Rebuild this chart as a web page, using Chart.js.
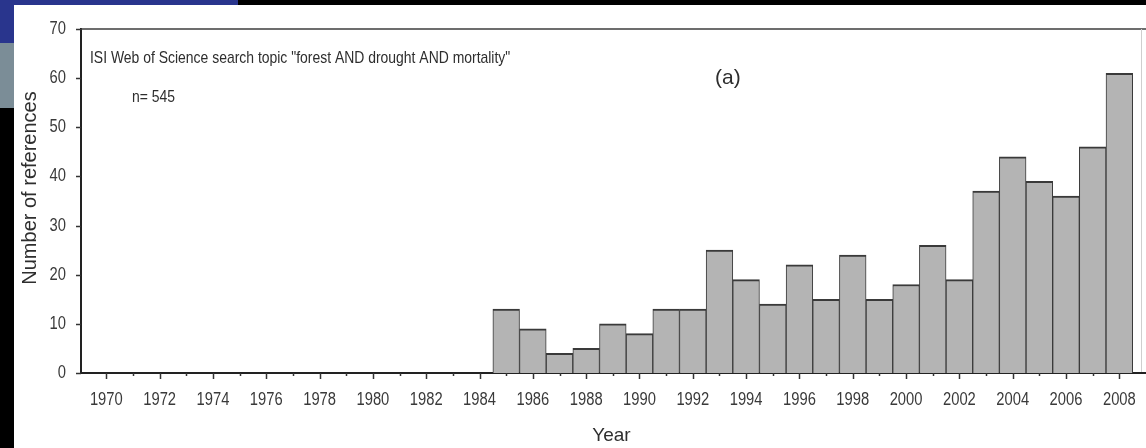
<!DOCTYPE html>
<html>
<head>
<meta charset="utf-8">
<script src="https://cdn.jsdelivr.net/npm/chart.js@4.4.1/dist/chart.umd.min.js"></script>
<style>
  html, body { margin: 0; padding: 0; background: #000; width: 1146px; height: 448px; overflow: hidden; }
  #band  { position: absolute; left: 0; top: 0; width: 238px; height: 43px; background: #29358d; }
  #strip { position: absolute; left: 0; top: 43px; width: 14px; height: 65px; background: #7b8d97; }
  #panel { position: absolute; left: 14px; top: 5px; width: 1132px; height: 443px; background: #fff; }
  canvas { display: block; }
</style>
</head>
<body>
<div id="band"></div>
<div id="strip"></div>
<div id="panel"><canvas id="chart" width="1132" height="443"></canvas></div>
<script>
// Publications per year found for the search topic
const years = [1985, 1986, 1987, 1988, 1989, 1990, 1991, 1992, 1993, 1994, 1995, 1996,
               1997, 1998, 1999, 2000, 2001, 2002, 2003, 2004, 2005, 2006, 2007, 2008];
const references = [13, 9, 4, 5, 10, 8, 13, 13, 25, 19, 14, 22,
                     15, 24, 15, 18, 26, 19, 37, 44, 39, 36, 46, 61];

// Axis ticks
const yearTicks = [1970, 1971, 1972, 1973, 1974, 1975, 1976, 1977, 1978, 1979, 1980,
                   1981, 1982, 1983, 1984, 1985, 1986, 1987, 1988, 1989, 1990, 1991,
                   1992, 1993, 1994, 1995, 1996, 1997, 1998, 1999, 2000, 2001, 2002,
                   2003, 2004, 2005, 2006, 2007, 2008];
const countTicks = [0, 10, 20, 30, 40, 50, 60, 70];

const searchText = 'ISI Web of Science search topic "forest AND drought AND mortality"';
const sampleText = 'n= 545';
const panelText = '(a)';
const yTitle = 'Number of references';
const xTitle = 'Year';

const SANS = "'Liberation Sans', Arial, sans-serif";
const INK = '#2e2e2e';
const TICK_INK = '#3a3a3a';
const NARROW_SCALE = 0.82;   // horizontal squeeze for the narrow-looking labels

function narrowText(ctx, text, x, y, sx) {
  ctx.save();
  ctx.translate(x, y);
  ctx.scale(sx, 1);
  ctx.fillText(text, 0, 0);
  ctx.restore();
}

// Frame, tick marks, tick labels and in-plot annotations
const decorations = {
  id: 'decorations',
  afterDraw(chart) {
    const { ctx, chartArea: a, scales: { x, y } } = chart;
    const w = chart.width;
    ctx.save();

    // top frame line and the faint right edge
    ctx.strokeStyle = '#3c3c3c';
    ctx.lineWidth = 1.5;
    ctx.beginPath(); ctx.moveTo(a.left, a.top); ctx.lineTo(w, a.top); ctx.stroke();
    ctx.strokeStyle = '#cfcfcf';
    ctx.lineWidth = 1;
    ctx.beginPath(); ctx.moveTo(a.right - 0.5, a.top); ctx.lineTo(a.right - 0.5, a.bottom); ctx.stroke();

    // x axis runs on to the panel edge
    ctx.strokeStyle = '#222';
    ctx.lineWidth = 2;
    ctx.beginPath(); ctx.moveTo(a.right - 1, a.bottom); ctx.lineTo(w, a.bottom); ctx.stroke();

    // year ticks: long for labelled years, short in between
    ctx.lineWidth = 1.5;
    ctx.strokeStyle = '#333';
    yearTicks.forEach(v => {
      const px = Math.round(x.getPixelForValue(v)) + 0.5;
      const len = v % 2 === 0 ? 6 : 3;
      ctx.beginPath(); ctx.moveTo(px, a.bottom); ctx.lineTo(px, a.bottom + len); ctx.stroke();
    });
    // count ticks
    countTicks.forEach(v => {
      const py = Math.round(y.getPixelForValue(v)) + 0.5;
      ctx.beginPath(); ctx.moveTo(a.left - 5, py); ctx.lineTo(a.left, py); ctx.stroke();
    });

    // tick labels
    ctx.fillStyle = TICK_INK;
    ctx.font = '18px ' + SANS;
    ctx.textBaseline = 'middle';
    ctx.textAlign = 'center';
    yearTicks.forEach(v => {
      if (v % 2 === 0) narrowText(ctx, String(v), x.getPixelForValue(v), a.bottom + 27, NARROW_SCALE);
    });
    ctx.textAlign = 'right';
    countTicks.forEach(v => {
      narrowText(ctx, String(v), a.left - 15, y.getPixelForValue(v), NARROW_SCALE);
    });

    // annotations
    ctx.fillStyle = INK;
    ctx.textBaseline = 'alphabetic';
    ctx.textAlign = 'left';
    ctx.font = '17px ' + SANS;
    narrowText(ctx, searchText, 76, 58, NARROW_SCALE);
    narrowText(ctx, sampleText, 118, 97, NARROW_SCALE);
    ctx.font = '21px ' + SANS;
    ctx.fillText(panelText, 701, 79);

    // y axis title
    ctx.font = '20px ' + SANS;
    ctx.textAlign = 'center';
    ctx.textBaseline = 'middle';
    ctx.translate(16, 183);
    ctx.rotate(-Math.PI / 2);
    ctx.fillText(yTitle, 0, 0);
    ctx.restore();
  }
};

new Chart(document.getElementById('chart'), {
  type: 'bar',
  data: {
    datasets: [{
      data: years.map((yr, i) => ({ x: yr, y: references[i] })),
      backgroundColor: '#b4b4b4',
      borderColor: '#3a3a3a',
      borderWidth: { top: 2, left: 1, right: 1, bottom: 0 },
      borderSkipped: 'bottom',
      barPercentage: 1,
      categoryPercentage: 1
    }]
  },
  options: {
    responsive: false,
    animation: false,
    devicePixelRatio: 1,
    layout: { padding: { top: 24, right: 4, bottom: 0, left: 0 } },
    plugins: { legend: { display: false }, tooltip: { enabled: false } },
    scales: {
      x: {
        type: 'linear',
        offset: false,
        min: 1969.05,
        max: 2008.85,
        afterBuildTicks: s => { s.ticks = yearTicks.map(v => ({ value: v })); },
        afterFit: s => { s.height = 75; },
        grid: { display: false, drawTicks: false },
        border: { display: true, color: '#222', width: 2 },
        ticks: { display: false },
        title: {
          display: true,
          text: xTitle,
          color: INK,
          font: { family: SANS, size: 19 },
          padding: { top: 0, bottom: 1 }
        }
      },
      y: {
        min: 0,
        max: 70,
        afterBuildTicks: s => { s.ticks = countTicks.map(v => ({ value: v })); },
        afterFit: s => { s.width = 67; },
        grid: { display: false, drawTicks: false },
        border: { display: true, color: '#222', width: 2 },
        ticks: { display: false }
      }
    }
  },
  plugins: [decorations]
});
</script>
</body>
</html>
